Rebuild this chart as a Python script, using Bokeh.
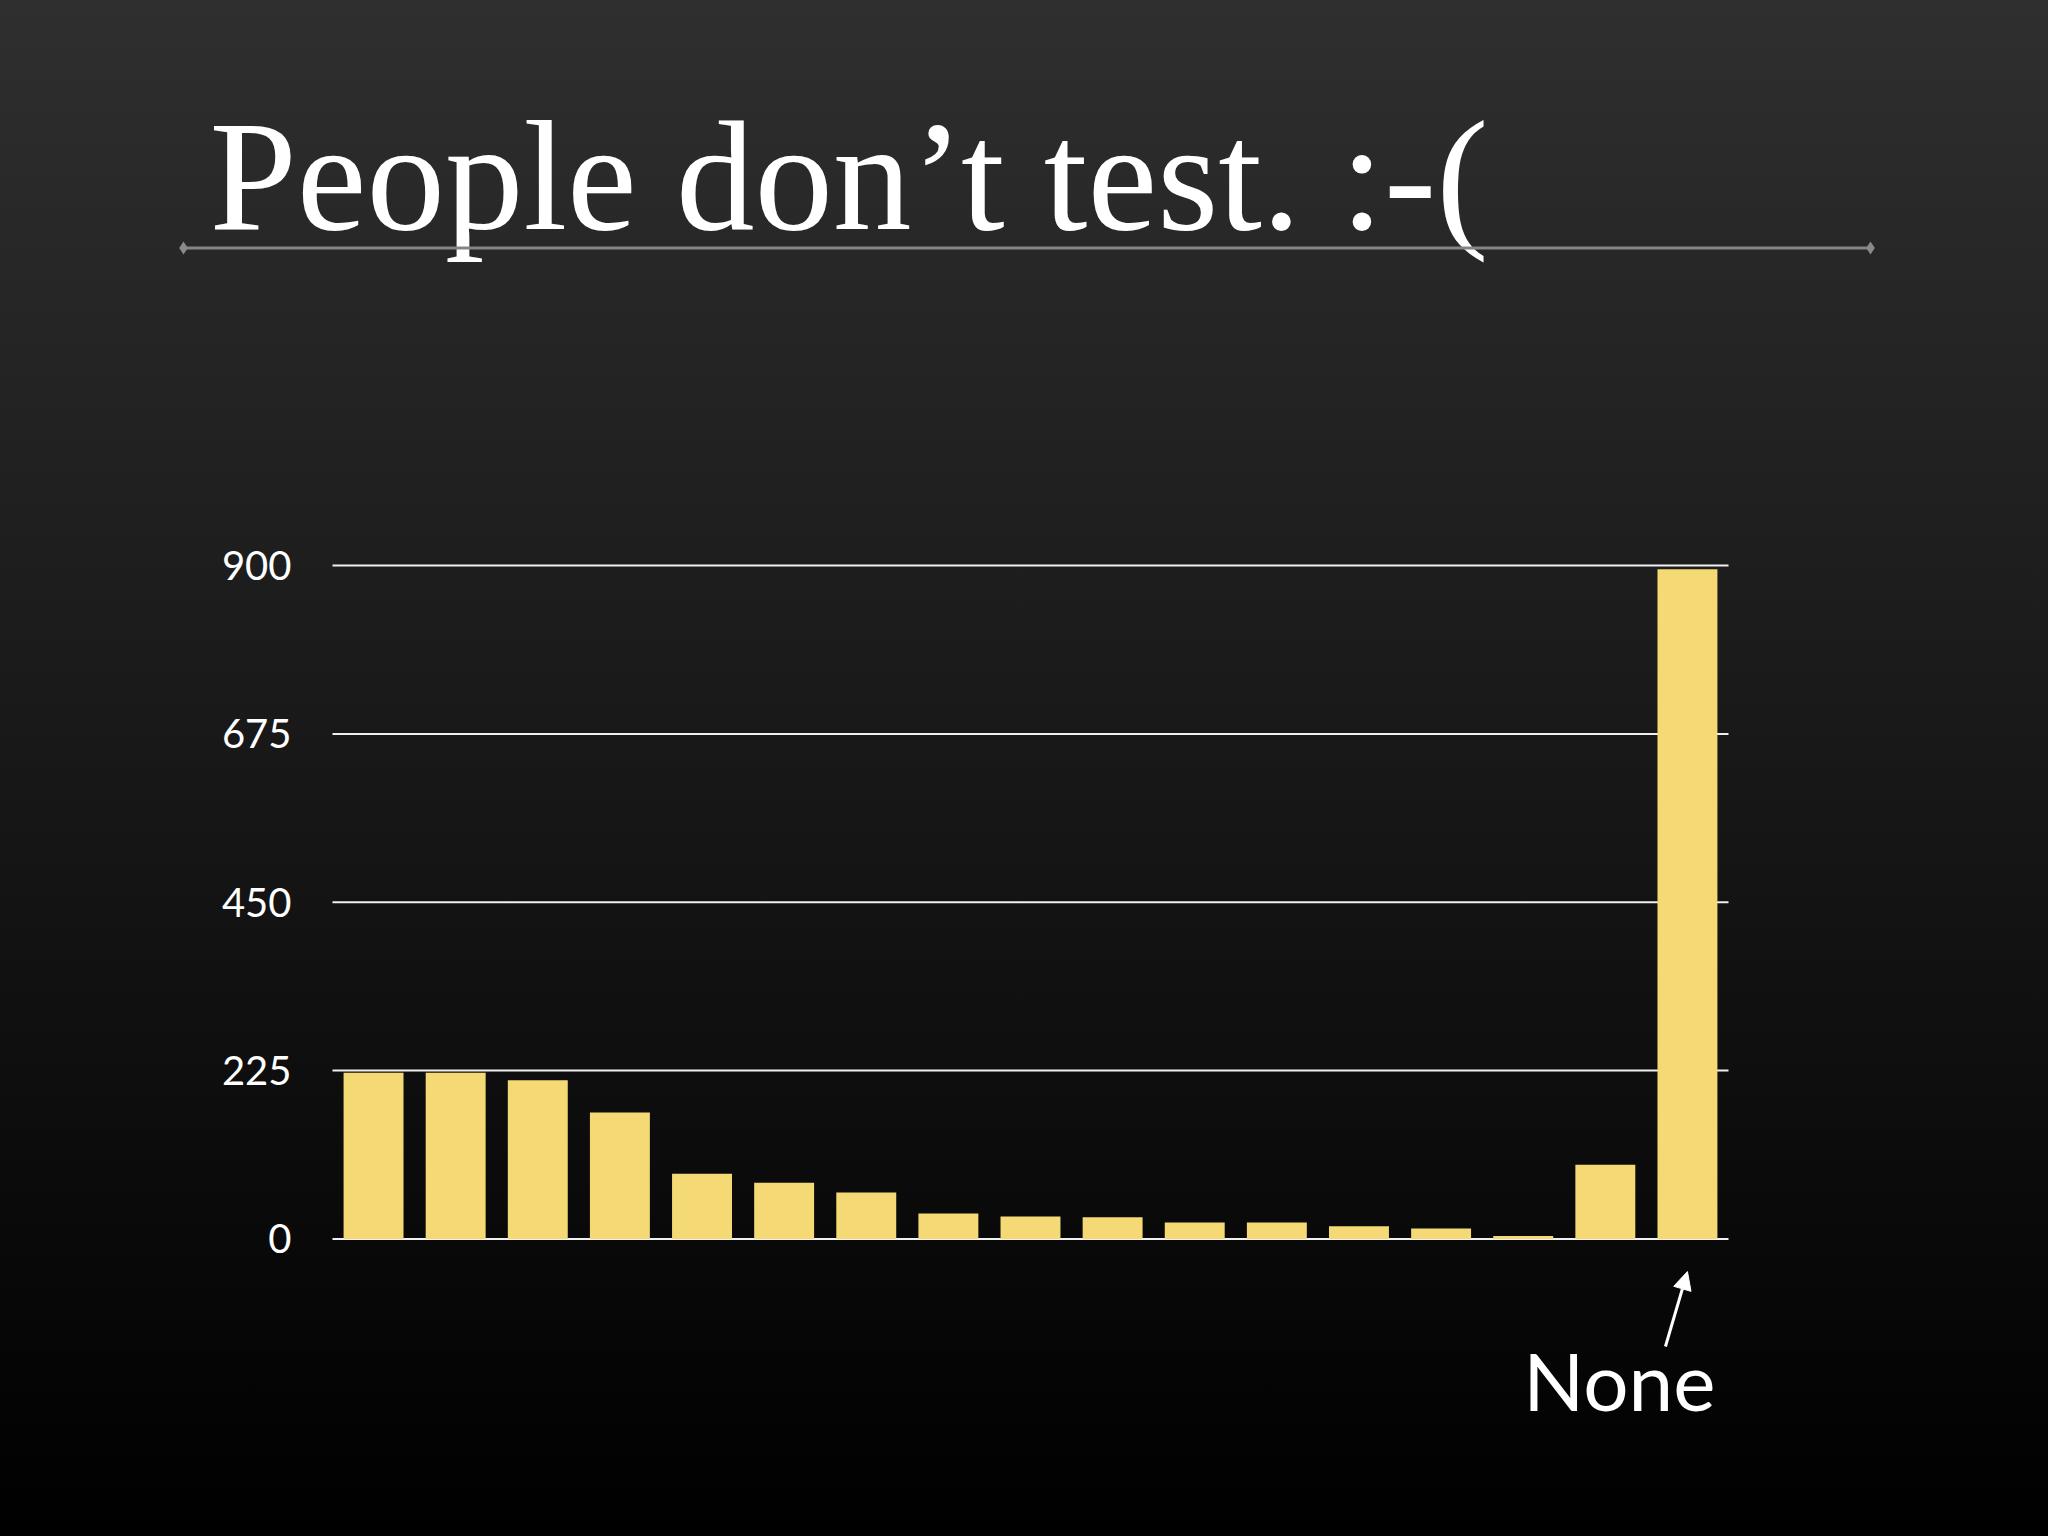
from bokeh.plotting import figure
from bokeh.models import Range1d, FactorRange, FixedTicker, Arrow, NormalHead
from bokeh.core.properties import value
from bokeh.embed import file_html
from bokeh.resources import INLINE

# ---- data ----
categories = ["c1", "c2", "c3", "c4", "c5", "c6", "c7", "c8", "c9",
              "c10", "c11", "c12", "c13", "c14", "c15", "c16", "None"]
counts = [222, 222, 212, 169, 87, 75, 62, 34, 30, 29, 22, 22, 17, 14, 4, 99, 895]
y_ticks = [0, 225, 450, 675, 900]
title_text = "People don\u2019t test. :-("
callout_text = "None"

BAR = "#f4d974"
GRID = "#f0f0f0"
W, H = 2048, 1536
n = len(categories)

p = figure(width=W, height=H, output_backend="svg", toolbar_location=None,
           x_range=FactorRange(factors=categories, range_padding=0.45843),
           y_range=Range1d(-397.7, 1655.2),
           x_axis_location=None, y_axis_location="left",
           min_border_left=12, min_border_right=0,
           min_border_top=0, min_border_bottom=0,
           background_fill_color=None, border_fill_color=None,
           outline_line_color=None,
           styles={"background": "linear-gradient(to bottom, #2f2f2f 0%, #000000 100%)"})

p.xgrid.visible = False
p.ygrid.visible = False

# horizontal value lines at the tick values, spanning the category band
p.segment(x0=[0] * len(y_ticks), x1=[n] * len(y_ticks), y0=y_ticks, y1=y_ticks,
          line_color=GRID, line_width=2)

p.vbar(x=categories, top=counts, width=0.73, bottom=0,
       fill_color=BAR, line_color=None)

ya = p.yaxis[0]
ya.fixed_location = 0
ya.ticker = FixedTicker(ticks=y_ticks)
ya.axis_line_color = None
ya.major_tick_line_color = None
ya.minor_tick_line_color = None
ya.major_tick_out = 0
ya.major_tick_in = 0
ya.major_label_standoff = 41
ya.major_label_text_color = "#ffffff"
ya.major_label_text_font = "Lato"
ya.major_label_text_font_size = "40px"

# title
p.text(x=[-1.498], y=[1421.3], text=[title_text],
       text_font=value("Liberation Serif"), text_font_size="157px",
       text_color="#ffffff", text_baseline="alphabetic", text_align="left")

# underline with diamond ends
p.segment(x0=[-1.814], x1=[18.729], y0=[1324.4], y1=[1324.4],
          line_color="#858585", line_width=3)
p.scatter(x=[-1.814, 18.729], y=[1324.4, 1324.4], marker="diamond", size=13,
          fill_color="#8a8a8a", line_color=None)

# callout
p.text(x=[16.84], y=[-188], text=[callout_text],
       text_font=value("Lato"), text_font_size="80px",
       text_color="#ffffff", text_align="right", text_baseline="alphabetic")
p.add_layout(Arrow(x_start=16.232, y_start=-143.8, x_end=16.5, y_end=-43.6,
                   line_color="#ffffff", line_width=3,
                   end=NormalHead(size=18, fill_color="#ffffff", line_color="#ffffff")))

open("out.html", "w").write(file_html(p, INLINE))
